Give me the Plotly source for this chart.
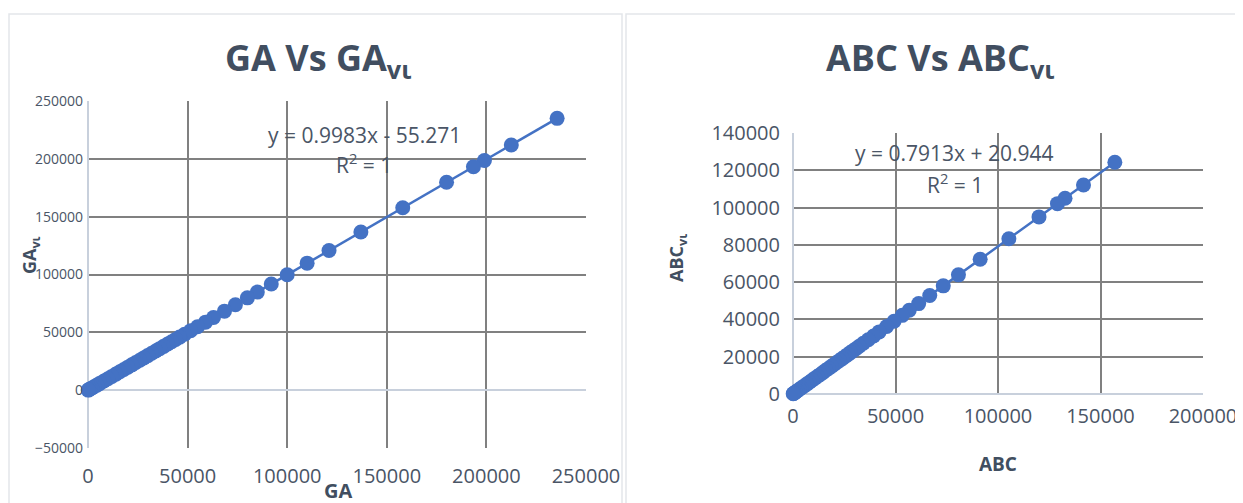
import plotly.graph_objects as go

# ---- data ----
ga = [235500, 212500, 199000, 193500, 180000, 158000, 137000, 121000, 110000, 100000,
      92000, 85000, 80000, 74000, 68500, 63000, 59000, 55000, 51500, 48500, 46000, 44000,
      42000, 40000, 38000, 36000, 34000, 32000, 30000, 28000, 26000, 24000, 22000, 20000,
      18000, 16000, 14000, 12000, 10000, 8000, 6000, 4500, 3000, 2000, 1000, 400, 100]
ga_vl = [235000, 212000, 198600, 193100, 179700, 157700, 136700, 120700, 109800, 99800,
         91800, 84800, 79800, 73800, 68300, 62800, 58800, 54800, 51400, 48400, 45900, 43900,
         41900, 39900, 37900, 35900, 33900, 31900, 29900, 27900, 25900, 23900, 21900, 19900,
         17900, 15900, 13900, 11900, 9900, 7900, 5900, 4400, 2900, 1900, 950, 350, 50]
abc = [157000, 141700, 132700, 129000, 120000, 105300, 91300, 80700, 73300, 66700,
       61300, 56700, 53300, 49300, 45700, 42000, 39300, 36700, 34300, 32300, 30700, 29300,
       28000, 26700, 25300, 24000, 22700, 21300, 20000, 18700, 17300, 16000, 14700, 13300,
       12000, 10700, 9300, 8000, 6700, 5300, 4000, 3000, 2000, 1300, 700, 300, 100]
abc_vl = [124300, 112100, 105000, 102100, 95000, 83300, 72300, 63900, 58000, 52800,
          48500, 44900, 42200, 39000, 36200, 33300, 31100, 29100, 27200, 25600, 24300, 23200,
          22200, 21100, 20000, 19000, 18000, 16900, 15800, 14800, 13700, 12700, 11600, 10500,
          9500, 8500, 7400, 6300, 5300, 4200, 3200, 2400, 1600, 1050, 570, 260, 100]

left_title = "GA Vs GA<sub>vι</sub>"
right_title = "ABC Vs ABC<sub>vι</sub>"
left_eq = ["y = 0.9983x - 55.271", "R<sup>2</sup> = 1"]
right_eq = ["y = 0.7913x + 20.944", "R<sup>2</sup> = 1"]

W, H = 1243, 503
OX, OY = 8, 8  # page body margin
BLUE = "#4472C4"
GRID = "#808080"
ZERO = "#c8d0dc"
TXT = "#4a5566"
TITLE = "#414e60"
FONT = "Open Sans"

def px(x):
    return (x - OX) / W

def py(y):
    return 1 - (y - OY) / H

fig = go.Figure()
fig.add_trace(go.Scatter(x=ga, y=ga_vl, mode="lines+markers", xaxis="x", yaxis="y",
                         line=dict(color=BLUE, width=2.5),
                         marker=dict(color=BLUE, size=15), cliponaxis=False, showlegend=False))
fig.add_trace(go.Scatter(x=abc, y=abc_vl, mode="lines+markers", xaxis="x2", yaxis="y2",
                         line=dict(color=BLUE, width=2.5),
                         marker=dict(color=BLUE, size=15), cliponaxis=False, showlegend=False))

ax_common = dict(showgrid=True, gridcolor=GRID, gridwidth=1.8, zeroline=True,
                 zerolinecolor=ZERO, zerolinewidth=1.8, showline=False, ticks="",
                 fixedrange=True, automargin=False, tickformat="d")

fig.update_layout(
    template="none",
    width=W, height=H,
    margin=dict(l=0, r=0, t=0, b=0, pad=0, autoexpand=False),
    paper_bgcolor="white", plot_bgcolor="white",
    font=dict(family=FONT, color=TXT),
    xaxis=dict(domain=[px(88), px(586)], range=[0, 250000], dtick=50000, anchor="y",
               tickfont=dict(size=20, color=TXT), ticklabelstandoff=14, **ax_common),
    yaxis=dict(domain=[py(448), py(101)], range=[-50000, 250000], dtick=50000, anchor="x",
               tickfont=dict(size=14, color=TXT), ticklabelstandoff=4, **ax_common),
    xaxis2=dict(domain=[px(793), px(1203)], range=[0, 200000], dtick=50000, anchor="y2",
                tickfont=dict(size=20, color=TXT), ticklabelstandoff=8, **ax_common),
    yaxis2=dict(domain=[py(394), py(133)], range=[0, 140000], dtick=20000, anchor="x2",
                tickfont=dict(size=20, color=TXT), ticklabelstandoff=12, **ax_common),
)

annotations = [
    dict(text="<b>%s</b>" % left_title, x=px(318), y=py(60), font=dict(size=36, color=TITLE)),
    dict(text="<b>%s</b>" % right_title, x=px(940), y=py(60), font=dict(size=36, color=TITLE)),
    dict(text="<b>GA<sub>vι</sub></b>", x=px(31), y=py(255), textangle=-90,
         font=dict(size=18, color=TITLE)),
    dict(text="<b>GA</b>", x=px(338), y=py(490), font=dict(size=20, color=TITLE)),
    dict(text="<b>ABC<sub>vι</sub></b>", x=px(677), y=py(258), textangle=-90,
         font=dict(size=18, color=TITLE)),
    dict(text="<b>ABC</b>", x=px(998), y=py(464), font=dict(size=19, color=TITLE)),
    dict(text=left_eq[0], x=px(364), y=py(135), font=dict(size=21, color=TXT)),
    dict(text=left_eq[1], x=px(364), y=py(163), font=dict(size=21, color=TXT)),
    dict(text=right_eq[0], x=px(954), y=py(153), font=dict(size=21, color=TXT)),
    dict(text=right_eq[1], x=px(955), y=py(183), font=dict(size=21, color=TXT)),
]
for a in annotations:
    a.update(xref="paper", yref="paper", showarrow=False, xanchor="center", yanchor="middle")
fig.update_layout(annotations=annotations)

fig.update_layout(shapes=[
    dict(type="rect", xref="paper", yref="paper", x0=px(9), x1=px(622), y0=py(530), y1=py(14),
         line=dict(color="#e3e6ea", width=1.5), layer="below"),
    dict(type="rect", xref="paper", yref="paper", x0=px(626), x1=px(1260), y0=py(530), y1=py(14),
         line=dict(color="#e3e6ea", width=1.5), layer="below"),
])

fig.write_html("out.html")
